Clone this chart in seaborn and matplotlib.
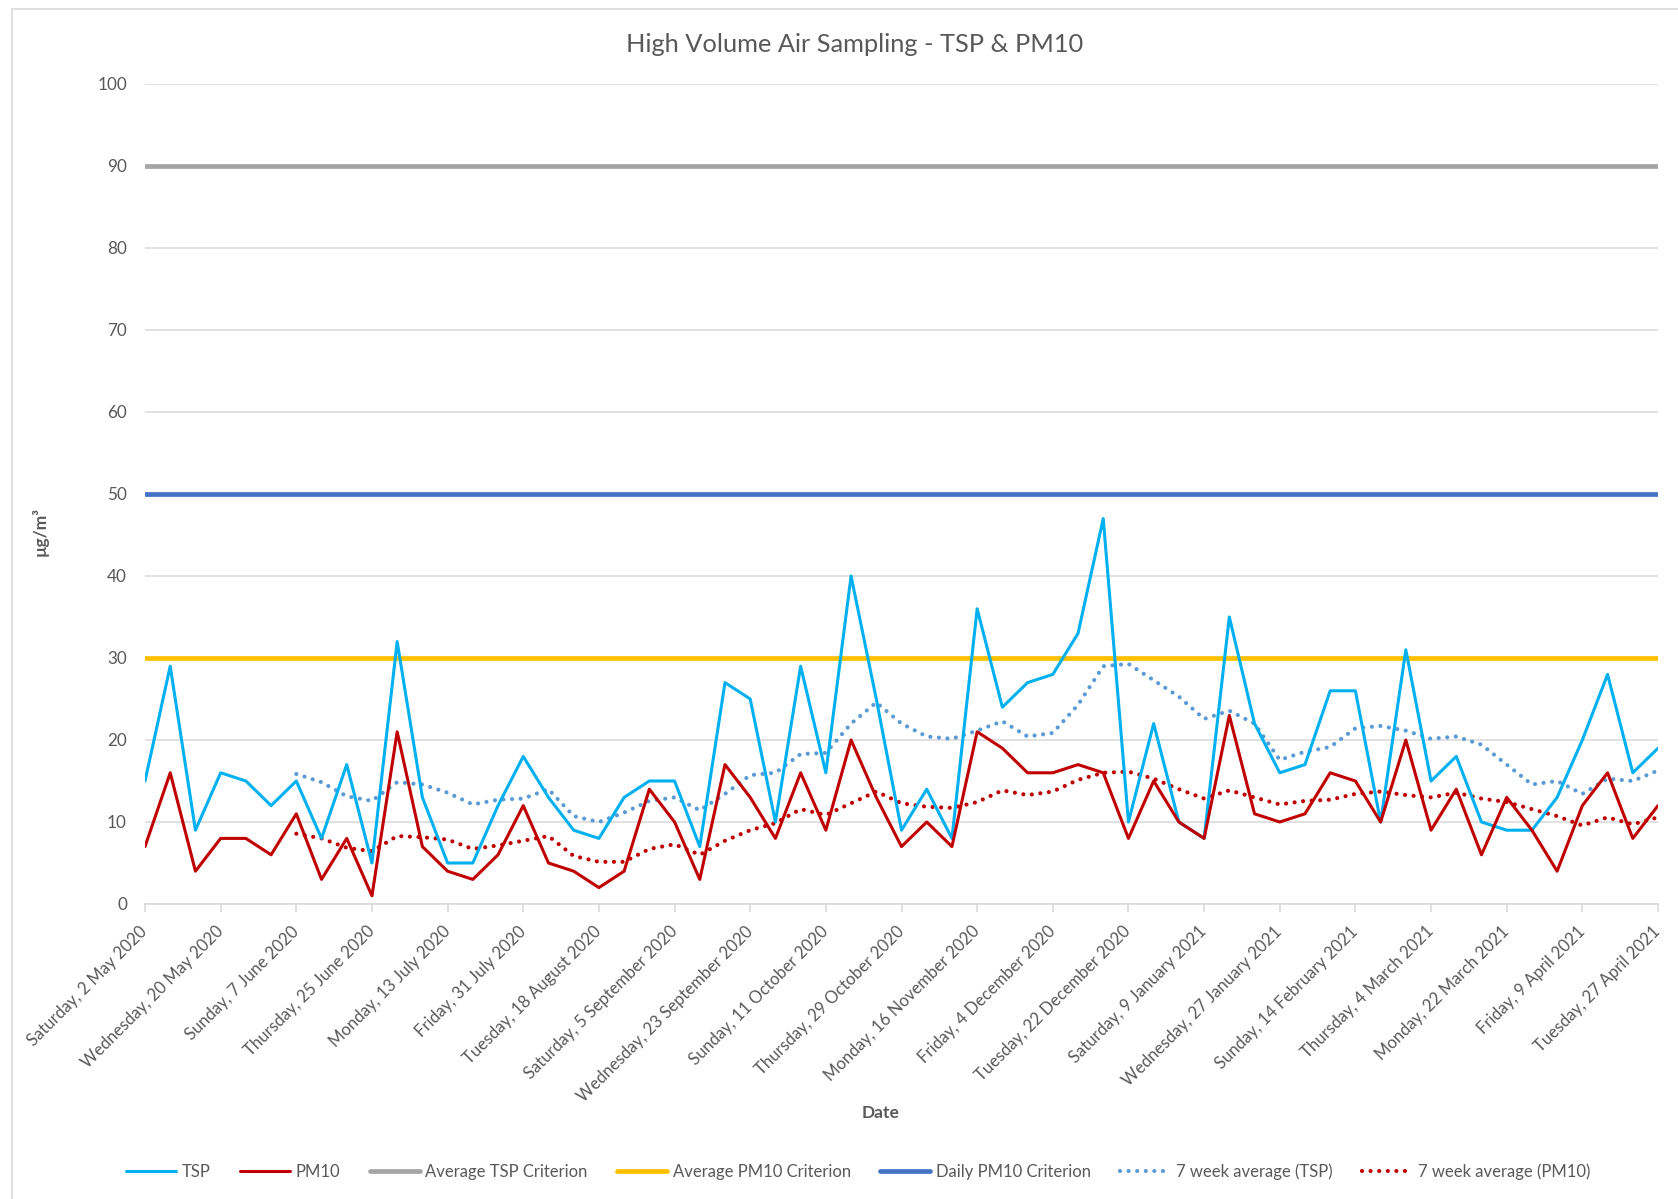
import numpy as np
import pandas as pd
import matplotlib
matplotlib.use("Agg")
import matplotlib.pyplot as plt
from matplotlib.patches import Rectangle
import seaborn as sns

# ---------------- data ----------------
dates = pd.date_range("2020-05-02", "2021-04-27", freq="6D")
tsp = [15, 29, 9, 16, 15, 12, 15, 8, 17, 5, 32, 13, 5, 5, 12, 18, 13, 9, 8, 13,
       15, 15, 7, 27, 25, 10, 29, 16, 40, 25, 9, 14, 8, 36, 24, 27, 28, 33, 47, 10,
       22, 10, 8, 35, 22, 16, 17, 26, 26, 10, 31, 15, 18, 10, 9, 9, 13, 20, 28, 16, 19]
pm10 = [7, 16, 4, 8, 8, 6, 11, 3, 8, 1, 21, 7, 4, 3, 6, 12, 5, 4, 2, 4,
        14, 10, 3, 17, 13, 8, 16, 9, 20, 13, 7, 10, 7, 21, 19, 16, 16, 17, 16, 8,
        15, 10, 8, 23, 11, 10, 11, 16, 15, 10, 20, 9, 14, 6, 13, 9, 4, 12, 16, 8, 12]
avg_tsp_criterion = 90
avg_pm10_criterion = 30
daily_pm10_criterion = 50
ma_window = 7
tick_labels = ["Saturday, 2 May 2020", "Wednesday, 20 May 2020", "Sunday, 7 June 2020",
               "Thursday, 25 June 2020", "Monday, 13 July 2020", "Friday, 31 July 2020",
               "Tuesday, 18 August 2020", "Saturday, 5 September 2020",
               "Wednesday, 23 September 2020", "Sunday, 11 October 2020",
               "Thursday, 29 October 2020", "Monday, 16 November 2020",
               "Friday, 4 December 2020", "Tuesday, 22 December 2020",
               "Saturday, 9 January 2021", "Wednesday, 27 January 2021",
               "Sunday, 14 February 2021", "Thursday, 4 March 2021",
               "Monday, 22 March 2021", "Friday, 9 April 2021", "Tuesday, 27 April 2021"]

# ---------------- style ----------------
sns.set_theme(style="white")
plt.rcParams["font.family"] = ["Lato", "DejaVu Sans"]
TXT = "#595959"
GRID = "#D9D9D9"

df = pd.DataFrame({"Date": dates, "TSP": tsp, "PM10": pm10})
df["MA_TSP"] = df["TSP"].rolling(ma_window).mean()
df["MA_PM10"] = df["PM10"].rolling(ma_window).mean()
df["AvgTSP"] = avg_tsp_criterion
df["AvgPM10"] = avg_pm10_criterion
df["DailyPM10"] = daily_pm10_criterion

fig = plt.figure(figsize=(16.78, 11.99), dpi=100)
ax = fig.add_axes([145 / 1678, 1 - 904 / 1199, (1658 - 145) / 1678, (904 - 84) / 1199])

# chart border
fig.patches.append(Rectangle((12 / 1678, -0.01), 1.0, 1 - 9 / 1199 + 0.01,
                             transform=fig.transFigure, fill=False,
                             edgecolor="#D9D9D9", lw=1.2, zorder=0))

dot = (0, (0.01, 2.05))
series = [
    ("TSP", "TSP", "#00B0F0", 2.2, "-", 5),
    ("PM10", "PM10", "#C00000", 2.2, "-", 5),
    ("AvgTSP", "Average TSP Criterion", "#A5A5A5", 3.4, "-", 3),
    ("AvgPM10", "Average PM10 Criterion", "#FFC000", 3.4, "-", 3),
    ("DailyPM10", "Daily PM10 Criterion", "#4472C4", 3.4, "-", 3),
    ("MA_TSP", "7 week average (TSP)", "#5B9BD5", 3.0, dot, 4),
    ("MA_PM10", "7 week average (PM10)", "#C00000", 3.0, dot, 4),
]
for col, lab, colr, lw, ls, z in series:
    sns.lineplot(data=df, x="Date", y=col, ax=ax, color=colr, lw=lw,
                 linestyle=ls, label=lab, zorder=z, legend=False,
                 solid_capstyle="round", dash_capstyle="round")

ax.set_xlim(dates[0], dates[-1])
ax.set_ylim(0, 100)
ax.set_yticks(np.arange(0, 101, 10))
ax.yaxis.grid(True, color=GRID, lw=1.1)
ax.xaxis.grid(False)
for s in ["left", "right", "top"]:
    ax.spines[s].set_visible(False)
ax.spines["bottom"].set_color(GRID)
ax.spines["bottom"].set_linewidth(1.2)
ax.spines["bottom"].set_zorder(1)

ax.set_xticks(dates[::3])
ax.set_xticklabels(tick_labels, rotation=45, ha="right", va="center",
                   rotation_mode="anchor")
ax.tick_params(axis="x", length=6, color=GRID, width=1.2, pad=12,
               labelsize=12, labelcolor=TXT, direction="out", bottom=True)
ax.tick_params(axis="y", length=0, pad=13, labelsize=12.3, labelcolor=TXT)
ax.set_xlabel("")
ax.set_ylabel("")

fig.text(855 / 1678, 1 - 44 / 1199, "High Volume Air Sampling - TSP & PM10",
         ha="center", va="center", fontsize=18.3, color=TXT)
fig.text(40 / 1678, 1 - 532 / 1199, "\u00b5g/m\u00b3", rotation=90, ha="center",
         va="center", fontsize=12.5, color=TXT, fontweight="bold")
fig.text(881 / 1678, 1 - 1113 / 1199, "Date", ha="center", va="center",
         fontsize=12.5, color=TXT, fontweight="bold")

handles, labels = ax.get_legend_handles_labels()
leg = fig.legend(handles, labels, loc="center", bbox_to_anchor=(858 / 1678, 1 - 1172 / 1199),
                 ncol=7, frameon=False, fontsize=12, handlelength=3.0,
                 columnspacing=1.75, handletextpad=0.35, labelcolor=TXT)

fig.savefig("out.png", dpi=100)
